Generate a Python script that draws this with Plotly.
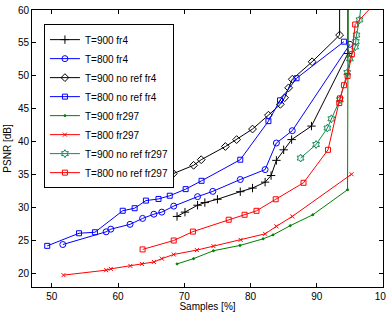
import plotly.graph_objects as go

# T=900 fr4
x_900_fr4 = [68.9, 70.1, 72.0, 73.1, 75.0, 78.45, 80.3, 82.2, 83.1, 83.9, 85.0, 86.2, 89.2, 94.7, 94.7]
y_900_fr4 = [28.7, 29.35, 30.4, 30.8, 31.3, 32.45, 33.0, 33.9, 34.9, 37.2, 38.8, 40.35, 42.4, 53.4, 70.0]

# T=800 fr4
x_800_fr4 = [51.65, 58.2, 58.9, 61.8, 63.7, 65.4, 66.6, 68.4, 72.0, 74.3, 78.45, 82.2, 83.9, 86.3, 95.0]
y_800_fr4 = [24.44, 26.37, 26.77, 27.5, 28.4, 29.04, 29.35, 30.26, 31.7, 32.5, 34.3, 35.8, 39.83, 41.7, 54.8]

# T=900 no ref fr4
x_900_nr_fr4 = [67.85, 68.35, 71.4, 72.55, 76.2, 77.9, 80.3, 82.7, 84.5, 85.15, 85.75, 86.3, 89.3, 93.45, 93.45]
y_900_nr_fr4 = [34.8, 35.2, 36.45, 37.3, 39.3, 40.35, 41.95, 44.05, 45.7, 46.7, 48.2, 49.5, 52.15, 56.2, 70.0]

# T=800 no ref fr4
x_800_nr_fr4 = [49.3, 54.1, 56.5, 60.7, 62.5, 64.2, 66.1, 67.8, 70.2, 72.6, 78.45, 82.7, 84.45, 86.95, 94.1]
y_800_nr_fr4 = [24.24, 26.15, 26.3, 29.56, 29.95, 31.1, 31.35, 31.84, 32.84, 34.1, 37.3, 43.15, 46.3, 49.65, 55.2]

# T=900 fr297
x_900_fr297 = [68.9, 71.4, 74.4, 78.4, 81.9, 83.4, 86.0, 89.4, 94.65, 94.75]
y_900_fr297 = [21.5, 22.3, 23.5, 24.3, 25.3, 25.9, 27.3, 28.95, 32.75, 70.0]

# T=800 fr297
x_800_fr297 = [51.75, 58.2, 58.9, 61.85, 63.6, 65.4, 66.6, 68.4, 71.9, 74.4, 78.5, 82.2, 83.9, 86.3, 95.25]
y_800_fr297 = [19.8, 20.55, 20.75, 21.2, 21.5, 21.8, 22.3, 22.93, 23.6, 24.2, 25.15, 26.06, 27.2, 28.7, 35.1]

# T=900 no ref fr297
x_900_nr_fr297 = [87.55, 89.9, 91.6, 92.2, 93.5, 94.6, 95.0, 95.8, 95.9, 96.0, 96.45, 96.9]
y_900_nr_fr297 = [37.55, 39.6, 42.1, 43.5, 46.4, 50.5, 52.6, 54.4, 55.2, 56.2, 58.5, 63.0]

# T=800 no ref fr297
x_800_nr_fr297 = [63.7, 68.4, 71.3, 76.7, 79.1, 80.9, 83.8, 88.0, 91.7, 93.4, 93.5, 94.1, 94.65, 95.3, 95.8, 99.5]
y_800_nr_fr297 = [23.7, 25.05, 26.4, 28.2, 28.95, 29.55, 31.3, 33.8, 38.8, 45.9, 46.6, 48.6, 50.0, 53.3, 57.8, 61.8]

x_ticks = [50, 60, 70, 80, 90, 100]
y_ticks = [20, 25, 30, 35, 40, 45, 50, 55, 60]

FONT = "Liberation Sans, Arial, Helvetica, sans-serif"

series = [
    ("T=900 fr4", x_900_fr4, y_900_fr4, "#000000", "cross-thin", 6),
    ("T=800 fr4", x_800_fr4, y_800_fr4, "#0000ff", "circle-open", 6),
    ("T=900 no ref fr4", x_900_nr_fr4, y_900_nr_fr4, "#000000", "diamond-open", 6),
    ("T=800 no ref fr4", x_800_nr_fr4, y_800_nr_fr4, "#0000ff", "square-open", 5),
    ("T=900 fr297", x_900_fr297, y_900_fr297, "#008000", "circle", 2),
    ("T=800 fr297", x_800_fr297, y_800_fr297, "#ff0000", "x-thin", 4),
    ("T=900 no ref fr297", x_900_nr_fr297, y_900_nr_fr297, "#138a56", "hexagram-open", 6),
    ("T=800 no ref fr297", x_800_nr_fr297, y_800_nr_fr297, "#ff0000", "square-open", 5),
]

fig = go.Figure()
for name, xs, ys, col, sym, sz in series:
    fig.add_trace(go.Scatter(
        x=xs, y=ys, name=name, mode="lines+markers",
        line=dict(color=col, width=1),
        marker=dict(symbol=sym, size=sz, color=col, line=dict(color=col, width=1)),
    ))

axis_common = dict(
    showline=True, linecolor="black", linewidth=1, mirror="ticks",
    ticks="inside", ticklen=4, tickcolor="black", tickwidth=1,
    showgrid=False, zeroline=False,
    tickfont=dict(family=FONT, size=10, color="black"),
    ticklabeloverflow="allow", automargin=False,
)

fig.update_layout(
    width=386, height=312,
    margin=dict(l=32, r=3, t=10, b=25),
    paper_bgcolor="white", plot_bgcolor="white",
    font=dict(family=FONT, size=10, color="black"),
    xaxis=dict(range=[47, 100], tickvals=x_ticks, ticktext=[str(v) for v in x_ticks],
               title=dict(text="Samples [%]", font=dict(family=FONT, size=10), standoff=6),
               **axis_common),
    yaxis=dict(range=[18, 60], tickvals=y_ticks, ticktext=[str(v) for v in y_ticks],
               title=dict(text="PSNR [dB]", font=dict(family=FONT, size=10), standoff=4),
               **axis_common),
    legend=dict(x=0.034, y=0.949, xanchor="left", yanchor="top",
                bgcolor="white", bordercolor="black", borderwidth=1,
                font=dict(family=FONT, size=10, color="black"),
                tracegroupgap=0, itemwidth=30),
    showlegend=True,
)

fig.write_html("out.html")
